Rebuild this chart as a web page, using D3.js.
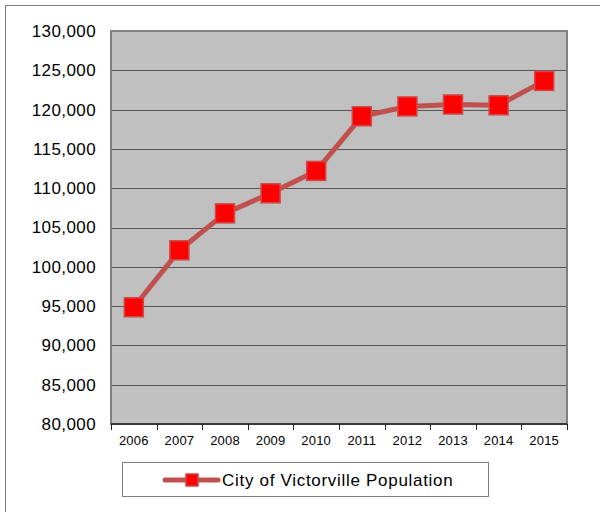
<!DOCTYPE html>
<html>
<head>
<meta charset="utf-8">
<script src="https://cdn.jsdelivr.net/npm/d3@7"></script>
<style>
  html, body { margin: 0; padding: 0; background: #fff; }
  svg { display: block; font-family: "Liberation Sans", Arial, Helvetica, sans-serif; }
</style>
</head>
<body>
<svg id="chart" width="600" height="512"></svg>
<script>
// Population of the City of Victorville by year
const years = ["2006", "2007", "2008", "2009", "2010", "2011", "2012", "2013", "2014", "2015"];
const population = [94850, 102100, 106800, 109350, 112200, 119150, 120400, 120650, 120550, 123650];
const yTicks = [80000, 85000, 90000, 95000, 100000, 105000, 110000, 115000, 120000, 125000, 130000];
const seriesName = "City of Victorville Population";

const svg = d3.select("#chart");
const plot = { left: 111, top: 31, right: 567, bottom: 424 };

// Outer chart frame (runs off the right and bottom edges)
svg.append("rect")
  .attr("x", 5.5).attr("y", 5.5)
  .attr("width", 620).attr("height", 540)
  .attr("fill", "#fff").attr("stroke", "#808080").attr("stroke-width", 1);

const x = d3.scaleBand().domain(years).range([plot.left, plot.right]).padding(0);
const y = d3.scaleLinear().domain([80000, 130000]).range([plot.bottom, plot.top]);

// Plot background
svg.append("rect")
  .attr("x", plot.left).attr("y", plot.top)
  .attr("width", plot.right - plot.left).attr("height", plot.bottom - plot.top)
  .attr("fill", "#c0c0c0");

// Horizontal gridlines
svg.append("g")
  .selectAll("line")
  .data(yTicks.slice(1, -1))
  .join("line")
  .attr("x1", plot.left).attr("x2", plot.right)
  .attr("y1", d => Math.round(y(d)) + 0.5).attr("y2", d => Math.round(y(d)) + 0.5)
  .attr("stroke", "#555").attr("stroke-width", 1);

// Plot border
svg.append("rect")
  .attr("x", plot.left).attr("y", plot.top)
  .attr("width", plot.right - plot.left).attr("height", plot.bottom - plot.top)
  .attr("fill", "none").attr("stroke", "#808080").attr("stroke-width", 2);

// Y axis labels
const yAxis = d3.axisLeft(y).tickValues(yTicks).tickSize(0).tickPadding(15)
  .tickFormat(d3.format(","));
svg.append("g")
  .attr("transform", `translate(${plot.left},0)`)
  .call(yAxis)
  .call(g => g.select(".domain").remove())
  .call(g => g.selectAll("text")
    .attr("font-size", 17).attr("fill", "#000")
    .attr("letter-spacing", 0.4)
    .attr("font-family", "Liberation Sans, Arial, sans-serif"));

// X axis: baseline, boundary ticks, labels
const xAxisG = svg.append("g");
xAxisG.append("line")
  .attr("x1", plot.left).attr("x2", plot.right)
  .attr("y1", plot.bottom).attr("y2", plot.bottom)
  .attr("stroke", "#222").attr("stroke-width", 1.5);
const boundaries = years.map(d => x(d)).concat([plot.right]);
xAxisG.selectAll("line.tick")
  .data(boundaries)
  .join("line")
  .attr("class", "tick")
  .attr("x1", d => Math.round(d) + 0.5).attr("x2", d => Math.round(d) + 0.5)
  .attr("y1", plot.bottom).attr("y2", plot.bottom + 6)
  .attr("stroke", "#222").attr("stroke-width", 1);
xAxisG.selectAll("text")
  .data(years)
  .join("text")
  .attr("x", d => x(d) + x.bandwidth() / 2)
  .attr("y", 445)
  .attr("text-anchor", "middle")
  .attr("font-size", 13)
  .attr("letter-spacing", 0.2)
  .attr("fill", "#000")
  .text(d => d);

// Series line
const cx = d => x(d) + x.bandwidth() / 2;
const line = d3.line()
  .x((d, i) => cx(years[i]))
  .y(d => y(d));
svg.append("path")
  .datum(population)
  .attr("d", line)
  .attr("fill", "none")
  .attr("stroke", "#c0504d")
  .attr("stroke-width", 5)
  .attr("stroke-linejoin", "round");

// Square markers
const ms = 19;
svg.append("g")
  .selectAll("rect")
  .data(population)
  .join("rect")
  .attr("x", (d, i) => cx(years[i]) - ms / 2)
  .attr("y", d => y(d) - ms / 2)
  .attr("width", ms).attr("height", ms)
  .attr("fill", "#ff0000")
  .attr("stroke", "#d04848")
  .attr("stroke-width", 1.5);

// Legend
const legend = svg.append("g");
legend.append("rect")
  .attr("x", 122.5).attr("y", 462.5)
  .attr("width", 366).attr("height", 34)
  .attr("fill", "#fff").attr("stroke", "#808080").attr("stroke-width", 1);
legend.append("line")
  .attr("x1", 165).attr("x2", 218).attr("y1", 480).attr("y2", 480)
  .attr("stroke", "#c0504d").attr("stroke-width", 5).attr("stroke-linecap", "round");
legend.append("rect")
  .attr("x", 186).attr("y", 474).attr("width", 12).attr("height", 12)
  .attr("fill", "#ff0000").attr("stroke", "#d04848").attr("stroke-width", 1.5);
legend.append("text")
  .attr("x", 222).attr("y", 486)
  .attr("font-size", 17).attr("fill", "#000")
  .attr("letter-spacing", 0.7)
  .text(seriesName);
</script>
</body>
</html>
